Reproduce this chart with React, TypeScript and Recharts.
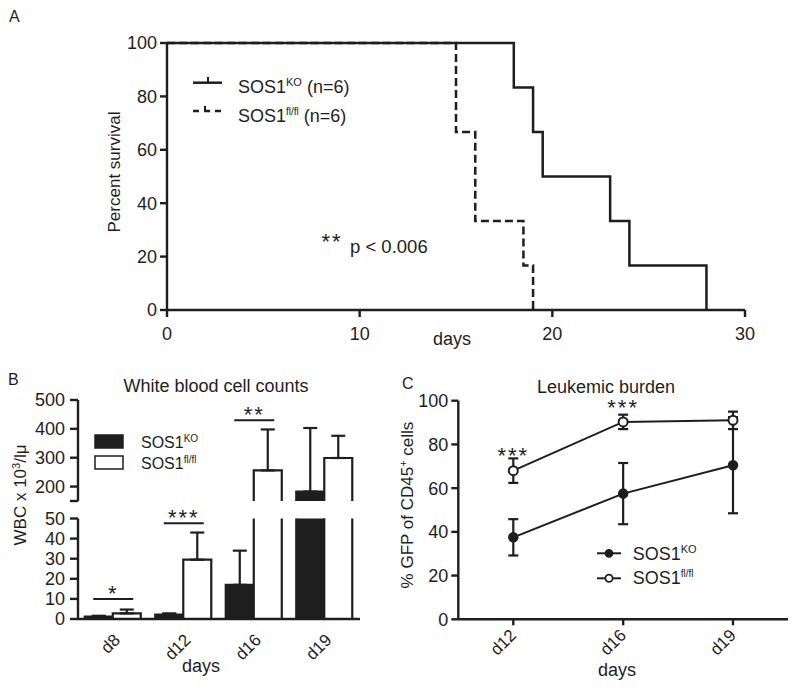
import React from "react";
import {
  LineChart,
  Line,
  BarChart,
  Bar,
  XAxis,
  YAxis,
  ErrorBar,
  Legend,
  ReferenceDot,
} from "recharts";

const INK = "#1e1e1e";
const FONT = "'Liberation Sans', Arial, Helvetica, sans-serif";

// A: Kaplan-Meier, day of each event and % surviving after it
const koDays = [0, 18, 19, 19.5, 23, 24, 28];
const koSurvival = [100, 83.3, 66.7, 50, 33.3, 16.7, 0];
const floxDays = [0, 15, 16, 18.5, 19];
const floxSurvival = [100, 66.7, 33.3, 16.7, 0];
const survivalXTicks = [0, 10, 20, 30];
const survivalYTicks = [0, 20, 40, 60, 80, 100];

// B: white blood cell counts (mean, upper SEM)
const wbcDays = ["d8", "d12", "d16", "d19"];
const wbcKo = [1.2, 2.2, 17, 183];
const wbcKoSem = [0.4, 0.6, 17, 220];
const wbcFlox = [2.8, 29.5, 256, 299];
const wbcFloxSem = [1.9, 13.5, 142, 77];
const wbcSigDays = ["d8", "d12", "d16"];
const wbcSigLevel = [10, 47.6, 430];
const wbcSigText = ["*", "***", "**"];
const wbcLowTicks = [0, 10, 20, 30, 40, 50];
const wbcBreak = 150;
const wbcHighTicks = [wbcBreak, 200, 300, 400, 500];

// C: leukemic burden
const burdenDays = ["d12", "d16", "d19"];
const burdenKo = [37.5, 57.5, 70.5];
const burdenKoSem = [8.3, 14, 22];
const burdenFlox = [68, 90.3, 91];
const burdenFloxSem = [5.6, 3.3, 4];
const burdenSigDays = ["d12", "d16"];
const burdenSigLevel = [77.4, 99];
const burdenYTicks = [0, 20, 40, 60, 80, 100];

const koCurve = koDays.map((day, i) => ({ day, pct: koSurvival[i] }));
const floxCurve = floxDays.map((day, i) => ({ day, pct: floxSurvival[i] }));

const wbcRows = wbcDays.map((day, i) => ({
  day,
  ko: wbcKo[i],
  koErr: [0, wbcKoSem[i]],
  flox: wbcFlox[i],
  floxErr: [0, wbcFloxSem[i]],
}));

const burdenRows = burdenDays.map((day, i) => ({
  day,
  ko: burdenKo[i],
  koErr: burdenKoSem[i],
  flox: burdenFlox[i],
  floxErr: burdenFloxSem[i],
}));

const axisStyle = { stroke: INK, strokeWidth: 2.4 };
const tickFont = { fill: INK, fontSize: 18, fontFamily: FONT };

const slantTick = (dx: number, dy: number) => (p: any) => {
  const x = p.x + dx;
  const y = p.y + dy;
  return (
    <text
      x={x}
      y={y}
      textAnchor="end"
      transform={`rotate(-45 ${x} ${y})`}
      fontSize={17}
      fontFamily={FONT}
      fill={INK}
    >
      {p.payload.value}
    </text>
  );
};

// upper segment: the break tick gets no label
const breakTick = (p: any) =>
  p.payload.value === wbcBreak ? (
    <g />
  ) : (
    <text x={p.x} y={p.y} dy="0.355em" textAnchor="end" {...tickFont}>
      {p.payload.value}
    </text>
  );

// bar without bottom edge, so the axis break leaves it open;
// bars below the segment's floor (negative height) draw nothing
const openBar = (fill: string) => (p: any) => {
  const { x, y, width, height } = p;
  if (!(height > 0)) return <g />;
  return (
    <g>
      <rect x={x} y={y} width={width} height={height} fill={fill} />
      <path
        d={`M${x},${y + height} V${y} H${x + width} V${y + height}`}
        fill="none"
        stroke={INK}
        strokeWidth={2.2}
      />
    </g>
  );
};

const sigBar = (label: string) => (p: any) => (
  <g>
    <line x1={p.cx - 20} x2={p.cx + 20} y1={p.cy} y2={p.cy} stroke={INK} strokeWidth={2} />
    <text
      x={p.cx}
      y={p.cy + 1.6}
      textAnchor="middle"
      fontSize={22}
      letterSpacing={2}
      fontFamily={FONT}
      fill={INK}
    >
      {label}
    </text>
  </g>
);

const sigStars = (p: any) => (
  <text
    x={p.cx}
    y={p.cy + 12.6}
    textAnchor="middle"
    fontSize={22}
    letterSpacing={2}
    fontFamily={FONT}
    fill={INK}
  >
    ***
  </text>
);

const SurvivalLegend = () => (
  <svg width={220} height={60} style={{ display: "block" }}>
    <line x1={3} x2={32} y1={12.7} y2={12.7} stroke={INK} strokeWidth={2.5} />
    <line x1={18} x2={18} y1={12.7} y2={7} stroke={INK} strokeWidth={2} />
    <text x={48} y={23.3} fontSize={18} fontFamily={FONT} fill={INK}>
      SOS1<tspan dy={-7} fontSize={11}>KO</tspan>
      <tspan dy={7} fontSize={18}>{"\u00a0(n=6)"}</tspan>
    </text>
    <line x1={3} x2={32} y1={41} y2={41} stroke={INK} strokeWidth={2.5} strokeDasharray="6 5" />
    <line x1={15} x2={15} y1={41} y2={36} stroke={INK} strokeWidth={2} />
    <text x={48} y={51.7} fontSize={18} fontFamily={FONT} fill={INK}>
      SOS1<tspan dy={-7} fontSize={10}>fl/fl</tspan>
      <tspan dy={7} fontSize={18}>{"\u00a0(n=6)"}</tspan>
    </text>
  </svg>
);

const WbcLegend = () => (
  <svg width={160} height={42} style={{ display: "block" }}>
    <rect x={2} y={2} width={28} height={13} fill={INK} stroke={INK} strokeWidth={1.5} />
    <rect x={2} y={23} width={28} height={13} fill="#fff" stroke={INK} strokeWidth={1.5} />
    <text x={48} y={15} fontSize={16} fontFamily={FONT} fill={INK}>
      SOS1<tspan dy={-6} fontSize={10}>KO</tspan>
    </text>
    <text x={48} y={36} fontSize={16} fontFamily={FONT} fill={INK}>
      SOS1<tspan dy={-6} fontSize={10}>fl/fl</tspan>
    </text>
  </svg>
);

const BurdenLegend = () => (
  <svg width={160} height={52} style={{ display: "block" }}>
    <line x1={2} x2={26} y1={13.3} y2={13.3} stroke={INK} strokeWidth={2} />
    <circle cx={14} cy={13.3} r={3.6} fill={INK} stroke={INK} strokeWidth={1.5} />
    <text x={37.7} y={20} fontSize={18} fontFamily={FONT} fill={INK}>
      SOS1<tspan dy={-7} fontSize={11}>KO</tspan>
    </text>
    <line x1={2} x2={26} y1={38.3} y2={38.3} stroke={INK} strokeWidth={2} />
    <circle cx={14} cy={38.3} r={3.6} fill="#fff" stroke={INK} strokeWidth={1.8} />
    <text x={37.7} y={44.3} fontSize={18} fontFamily={FONT} fill={INK}>
      SOS1<tspan dy={-7} fontSize={10}>fl/fl</tspan>
    </text>
  </svg>
);

const SurvivalPanel = () => (
  <div style={{ position: "absolute", left: 0, top: 0 }}>
    <LineChart width={800} height={370} margin={{ top: 43, right: 55, bottom: 0, left: 0 }}>
      <XAxis
        type="number"
        dataKey="day"
        domain={[0, 30]}
        ticks={survivalXTicks}
        interval={0}
        height={60}
        tickSize={7}
        tickMargin={10}
        axisLine={axisStyle}
        tickLine={axisStyle}
        tick={tickFont}
      />
      <YAxis
        type="number"
        domain={[0, 100]}
        ticks={survivalYTicks}
        interval={0}
        width={167}
        tickSize={7}
        tickMargin={3}
        axisLine={axisStyle}
        tickLine={axisStyle}
        tick={tickFont}
      />
      <Line
        data={floxCurve}
        dataKey="pct"
        type="stepAfter"
        stroke={INK}
        strokeWidth={2.5}
        strokeDasharray="8 4"
        dot={false}
        activeDot={false}
        isAnimationActive={false}
      />
      <Line
        data={koCurve}
        dataKey="pct"
        type="stepAfter"
        stroke={INK}
        strokeWidth={2.5}
        dot={false}
        activeDot={false}
        isAnimationActive={false}
      />
      <Legend
        content={SurvivalLegend}
        layout="vertical"
        align="center"
        verticalAlign="middle"
        wrapperStyle={{ left: 190, top: 70, width: 220 }}
      />
    </LineChart>
  </div>
);

const WbcBars = () => [
  <Bar key="ko" dataKey="ko" shape={openBar(INK)} isAnimationActive={false}>
    <ErrorBar dataKey="koErr" width={7} stroke={INK} strokeWidth={2.2} direction="y" />
  </Bar>,
  <Bar key="flox" dataKey="flox" shape={openBar("#fff")} isAnimationActive={false}>
    <ErrorBar dataKey="floxErr" width={7} stroke={INK} strokeWidth={2.2} direction="y" />
  </Bar>,
];

const WbcSig = () =>
  wbcSigDays.map((day, i) => (
    <ReferenceDot key={day} x={day} y={wbcSigLevel[i]} r={1} shape={sigBar(wbcSigText[i])} />
  ));

const WbcPanel = () => (
  <>
    <div style={{ position: "absolute", left: 0, top: 370, overflow: "hidden" }}>
      <BarChart
        width={400}
        height={136}
        data={wbcRows}
        margin={{ top: 30, right: 40, bottom: 5, left: 0 }}
        barCategoryGap="9.6%"
        barGap={0}
      >
        <XAxis dataKey="day" hide />
        <YAxis
          domain={[wbcBreak, 500]}
          allowDataOverflow
          ticks={wbcHighTicks}
          interval={0}
          width={78}
          tickSize={8}
          tickMargin={5}
          axisLine={axisStyle}
          tickLine={axisStyle}
          tick={breakTick}
        />
        {WbcBars()}
        {WbcSig()}
        <Legend
          content={WbcLegend}
          layout="vertical"
          align="center"
          verticalAlign="middle"
          wrapperStyle={{ left: 93, top: 63, width: 160 }}
        />
      </BarChart>
    </div>
    <div style={{ position: "absolute", left: 0, top: 496, overflow: "hidden" }}>
      <BarChart
        width={400}
        height={184}
        data={wbcRows}
        margin={{ top: 22.5, right: 40, bottom: 0, left: 0 }}
        barCategoryGap="9.6%"
        barGap={0}
      >
        <XAxis
          dataKey="day"
          height={61}
          interval={0}
          tickSize={0}
          tickMargin={0}
          tickLine={false}
          axisLine={axisStyle}
          tick={slantTick(8, 22)}
        />
        <YAxis
          domain={[0, 50]}
          allowDataOverflow
          ticks={wbcLowTicks}
          interval={0}
          width={78}
          tickSize={8}
          tickMargin={5}
          axisLine={axisStyle}
          tickLine={axisStyle}
          tick={tickFont}
        />
        {WbcBars()}
        {WbcSig()}
      </BarChart>
    </div>
  </>
);

const BurdenPanel = () => (
  <div style={{ position: "absolute", left: 400, top: 370 }}>
    <LineChart
      width={400}
      height={323}
      data={burdenRows}
      margin={{ top: 30.7, right: 12, bottom: 0, left: 0 }}
    >
      <XAxis
        dataKey="day"
        padding={{ left: 55, right: 55 }}
        interval={0}
        height={73.7}
        tickSize={6}
        tickMargin={0}
        axisLine={axisStyle}
        tickLine={axisStyle}
        tick={slantTick(4, 11)}
      />
      <YAxis
        domain={[0, 100]}
        ticks={burdenYTicks}
        interval={0}
        width={58.3}
        tickSize={7}
        tickMargin={3}
        axisLine={axisStyle}
        tickLine={axisStyle}
        tick={tickFont}
      />
      <Line
        dataKey="ko"
        stroke={INK}
        strokeWidth={2}
        dot={{ r: 4.5, fill: INK, stroke: INK, strokeWidth: 1.5 }}
        activeDot={false}
        isAnimationActive={false}
      >
        <ErrorBar dataKey="koErr" width={5} stroke={INK} strokeWidth={2.2} direction="y" />
      </Line>
      <Line
        dataKey="flox"
        stroke={INK}
        strokeWidth={2}
        dot={{ r: 4.5, fill: "#fff", stroke: INK, strokeWidth: 2 }}
        activeDot={false}
        isAnimationActive={false}
      >
        <ErrorBar dataKey="floxErr" width={5} stroke={INK} strokeWidth={2.2} direction="y" />
      </Line>
      {burdenSigDays.map((day, i) => (
        <ReferenceDot key={day} x={day} y={burdenSigLevel[i]} r={1} shape={sigStars} />
      ))}
      <Legend
        content={BurdenLegend}
        layout="vertical"
        align="center"
        verticalAlign="middle"
        wrapperStyle={{ left: 195, top: 170, width: 160 }}
      />
    </LineChart>
  </div>
);

const Labels = () => (
  <svg
    width={800}
    height={693}
    style={{ position: "absolute", left: 0, top: 0, pointerEvents: "none" }}
    fontFamily={FONT}
    fill={INK}
  >
    <text x={9} y={22} fontSize={16}>A</text>
    <text x={8} y={385} fontSize={16}>B</text>
    <text x={402} y={389} fontSize={16}>C</text>

    <text transform="translate(120 172) rotate(-90)" textAnchor="middle" fontSize={17}>
      Percent survival
    </text>
    <text x={452} y={345} textAnchor="middle" fontSize={18}>days</text>
    <text x={332} y={249.3} textAnchor="middle" fontSize={22} letterSpacing={2}>**</text>
    <text x={350} y={253.3} fontSize={18.5}>p &lt; 0.006</text>

    <text x={216} y={392} textAnchor="middle" fontSize={18}>White blood cell counts</text>
    <text transform="translate(26 495) rotate(-90)" textAnchor="middle" fontSize={17}>
      WBC x 10<tspan dy={-6} fontSize={11}>3</tspan>
      <tspan dy={6} fontSize={17}>/lμ</tspan>
    </text>
    <text x={201} y={672} textAnchor="middle" fontSize={18}>days</text>

    <text x={606} y={393} textAnchor="middle" fontSize={18}>Leukemic burden</text>
    <text transform="translate(413 505) rotate(-90)" textAnchor="middle" fontSize={17}>
      % GFP of CD45<tspan dy={-6} fontSize={11}>+</tspan>
      <tspan dy={6} fontSize={17}>{"\u00a0cells"}</tspan>
    </text>
    <text x={617} y={676} textAnchor="middle" fontSize={18}>days</text>
  </svg>
);

export default function App() {
  return (
    <div
      style={{
        position: "absolute",
        left: 0,
        top: 0,
        width: 800,
        height: 693,
        background: "#fff",
        fontFamily: FONT,
      }}
    >
      <SurvivalPanel />
      <WbcPanel />
      <BurdenPanel />
      <Labels />
    </div>
  );
}
